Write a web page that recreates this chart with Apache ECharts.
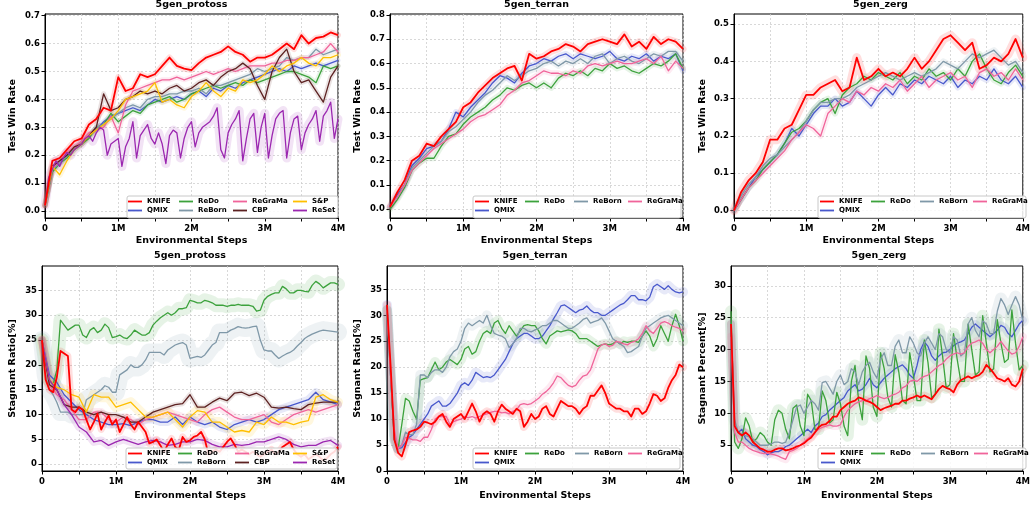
<!DOCTYPE html>
<html lang="en">
<head>
<meta charset="UTF-8">
<title>5gen win rate / stagnant ratio</title>
<script src="https://cdn.jsdelivr.net/npm/echarts@6.0.0/dist/echarts.min.js"></script>
<style>
  html, body { margin: 0; padding: 0; background: #fff; }
  #main { width: 1033px; height: 507px; }
</style>
</head>
<body>
<div id="main"></div>
<script>
// series names
var namesFull = ['KNIFE', 'QMIX', 'ReDo', 'ReBorn', 'ReGraMa', 'CBP', 'S&P', 'ReSet'];
var namesFive = ['KNIFE', 'QMIX', 'ReDo', 'ReBorn', 'ReGraMa'];

// tick labels
var ticksWin07 = [0, 0.1, 0.2, 0.3, 0.4, 0.5, 0.6, 0.7];
var ticksWin08 = [0, 0.1, 0.2, 0.3, 0.4, 0.5, 0.6, 0.7, 0.8];
var ticksWin05 = [0, 0.1, 0.2, 0.3, 0.4, 0.5];
var ticksStag35 = [0, 5, 10, 15, 20, 25, 30, 35];
var ticksStag30 = [5, 10, 15, 20, 25, 30];

// every array spans 0..4M environmental steps, evenly spaced

// --- 5gen_protoss, test win rate (0.1M steps; ReSet 0.05M) ---
var pwKNIFE = [0.02,0.18,0.19,0.22,0.25,0.26,0.31,0.33,0.37,0.36,0.48,0.43,0.44,0.49,0.48,0.49,0.52,0.55,0.52,0.51,0.505,0.53,0.55,0.56,0.57,0.59,0.57,0.56,0.535,0.55,0.55,0.56,0.58,0.60,0.58,0.63,0.60,0.62,0.625,0.64,0.63];
var pwQMIX = [0.02,0.15,0.17,0.20,0.22,0.24,0.27,0.29,0.32,0.34,0.35,0.36,0.37,0.36,0.38,0.40,0.39,0.40,0.41,0.40,0.42,0.43,0.41,0.44,0.43,0.45,0.44,0.46,0.47,0.48,0.49,0.50,0.51,0.50,0.52,0.51,0.52,0.53,0.52,0.53,0.54];
var pwReDo = [0.02,0.14,0.17,0.19,0.22,0.24,0.26,0.30,0.31,0.35,0.32,0.34,0.36,0.35,0.38,0.39,0.40,0.41,0.39,0.40,0.42,0.43,0.44,0.45,0.44,0.45,0.46,0.45,0.47,0.46,0.47,0.48,0.49,0.50,0.50,0.49,0.48,0.46,0.52,0.51,0.52];
var pwReBorn = [0.02,0.15,0.17,0.20,0.22,0.25,0.27,0.30,0.31,0.33,0.35,0.37,0.38,0.37,0.40,0.41,0.41,0.42,0.42,0.43,0.43,0.44,0.42,0.45,0.45,0.46,0.47,0.48,0.49,0.51,0.50,0.51,0.52,0.55,0.54,0.55,0.55,0.58,0.56,0.57,0.58];
var pwReGraMa = [0.02,0.15,0.18,0.21,0.23,0.25,0.28,0.29,0.30,0.34,0.28,0.38,0.43,0.44,0.45,0.46,0.47,0.47,0.48,0.47,0.48,0.49,0.50,0.49,0.50,0.51,0.50,0.51,0.52,0.52,0.52,0.53,0.53,0.54,0.54,0.55,0.55,0.56,0.57,0.60,0.57];
var pwCBP = [0.02,0.16,0.18,0.20,0.23,0.24,0.27,0.30,0.42,0.36,0.37,0.40,0.41,0.43,0.42,0.43,0.42,0.44,0.45,0.43,0.44,0.46,0.47,0.45,0.48,0.50,0.51,0.53,0.51,0.45,0.40,0.50,0.55,0.58,0.50,0.46,0.47,0.43,0.39,0.48,0.52];
var pwSP = [0.02,0.16,0.13,0.18,0.22,0.24,0.27,0.29,0.31,0.33,0.36,0.40,0.41,0.42,0.43,0.46,0.39,0.40,0.38,0.37,0.41,0.43,0.46,0.43,0.41,0.44,0.43,0.47,0.46,0.47,0.49,0.52,0.50,0.52,0.53,0.55,0.53,0.52,0.55,0.55,0.56];
var pwReSet = [0.02,0.12,0.15,0.18,0.16,0.19,0.21,0.20,0.22,0.23,
  0.24,0.26,0.27,0.25,0.28,0.30,0.29,0.20,0.24,0.25,
  0.26,0.16,0.23,0.26,0.32,0.19,0.27,0.29,0.31,0.26,
  0.24,0.28,0.24,0.17,0.27,0.29,0.28,0.19,0.26,0.30,
  0.32,0.23,0.28,0.30,0.31,0.32,0.34,0.37,0.22,0.19,
  0.28,0.31,0.33,0.36,0.18,0.26,0.33,0.35,0.21,0.30,
  0.35,0.19,0.27,0.33,0.35,0.36,0.19,0.28,0.33,0.34,
  0.22,0.28,0.31,0.33,0.36,0.25,0.34,0.36,0.39,0.26,
  0.33];

// --- 5gen_terran, test win rate (0.1M steps) ---
var twKNIFE = [0.01,0.07,0.12,0.20,0.22,0.27,0.26,0.30,0.33,0.36,0.42,0.44,0.48,0.51,0.54,0.56,0.58,0.59,0.53,0.64,0.62,0.63,0.65,0.66,0.68,0.67,0.65,0.68,0.69,0.70,0.69,0.68,0.72,0.67,0.69,0.66,0.71,0.68,0.70,0.69,0.66];
var twQMIX = [0.01,0.06,0.10,0.18,0.21,0.25,0.26,0.28,0.33,0.40,0.38,0.42,0.45,0.48,0.52,0.55,0.54,0.52,0.56,0.59,0.60,0.62,0.61,0.63,0.64,0.62,0.64,0.63,0.62,0.63,0.65,0.62,0.61,0.63,0.62,0.64,0.61,0.63,0.62,0.64,0.57];
var twReDo = [0.00,0.04,0.09,0.16,0.19,0.21,0.21,0.26,0.30,0.31,0.35,0.38,0.40,0.42,0.45,0.47,0.50,0.49,0.51,0.52,0.50,0.52,0.50,0.54,0.56,0.55,0.57,0.55,0.58,0.57,0.60,0.58,0.59,0.57,0.56,0.58,0.60,0.59,0.61,0.64,0.58];
var twReBorn = [0.01,0.05,0.10,0.17,0.20,0.23,0.26,0.28,0.32,0.34,0.37,0.40,0.44,0.47,0.49,0.52,0.55,0.53,0.55,0.57,0.58,0.60,0.61,0.59,0.61,0.60,0.62,0.60,0.63,0.64,0.60,0.62,0.63,0.61,0.60,0.62,0.64,0.63,0.65,0.65,0.61];
var twReGraMa = [0.01,0.05,0.10,0.16,0.19,0.22,0.25,0.27,0.29,0.31,0.33,0.36,0.38,0.39,0.41,0.43,0.47,0.49,0.52,0.53,0.55,0.57,0.56,0.56,0.55,0.57,0.56,0.59,0.60,0.59,0.60,0.61,0.60,0.60,0.61,0.62,0.60,0.63,0.57,0.61,0.58];

// --- 5gen_zerg, test win rate (0.1M steps) ---
var zwKNIFE = [0.00,0.05,0.08,0.10,0.13,0.19,0.19,0.22,0.23,0.27,0.31,0.31,0.33,0.34,0.35,0.32,0.33,0.41,0.35,0.36,0.38,0.36,0.37,0.36,0.38,0.41,0.38,0.40,0.43,0.46,0.47,0.45,0.43,0.45,0.38,0.39,0.41,0.40,0.42,0.46,0.41];
var zwQMIX = [0.00,0.03,0.06,0.09,0.11,0.13,0.15,0.18,0.22,0.20,0.23,0.26,0.28,0.28,0.30,0.28,0.29,0.32,0.30,0.28,0.31,0.33,0.31,0.34,0.33,0.35,0.34,0.36,0.35,0.34,0.36,0.33,0.35,0.34,0.36,0.35,0.38,0.35,0.34,0.36,0.33];
var zwReDo = [0.00,0.03,0.06,0.08,0.11,0.13,0.15,0.18,0.21,0.22,0.24,0.27,0.29,0.30,0.26,0.31,0.33,0.34,0.36,0.35,0.37,0.36,0.35,0.37,0.34,0.36,0.35,0.38,0.36,0.37,0.35,0.38,0.36,0.40,0.42,0.38,0.35,0.34,0.37,0.39,0.36];
var zwReBorn = [0.00,0.04,0.07,0.09,0.12,0.14,0.15,0.17,0.19,0.21,0.24,0.27,0.29,0.29,0.30,0.30,0.31,0.33,0.34,0.35,0.36,0.37,0.36,0.35,0.36,0.37,0.36,0.37,0.38,0.40,0.39,0.38,0.40,0.42,0.41,0.42,0.43,0.41,0.39,0.40,0.37];
var zwReGraMa = [0.00,0.03,0.06,0.08,0.10,0.12,0.14,0.16,0.19,0.21,0.23,0.22,0.20,0.26,0.28,0.30,0.29,0.32,0.31,0.33,0.32,0.34,0.33,0.35,0.32,0.34,0.36,0.33,0.35,0.36,0.37,0.35,0.36,0.33,0.37,0.38,0.36,0.37,0.35,0.38,0.35];

// --- 5gen_protoss, stagnant ratio [%] (KNIFE/ReDo/ReBorn 0.05M, others 0.1M) ---
var psKNIFE = [25,17,15,14.5,17.5,22.8,22.3,21.8,11,10.5,
  11.5,11,9,7,8.5,10.2,7,8.5,9.8,8,
  9,6.5,8,9.5,8,7,8.5,7.5,6.5,4.2,
  4.5,5,3.8,2.5,4,5.2,3.5,3,5.5,4.5,
  4.8,5.5,5.8,6.5,5,2,2.5,3,2.5,3.5,
  4.5,5.2,4,2.5,3,2.5,2,2.5,2,1.5,
  2,2.5,3,2,2.5,3.5,4,4.5,3,2,
  1.5,2,1,1.5,2,1.5,0.8,1.2,2,2.5,
  3.5];
var psQMIX = [25,18,16.5,14,12.5,11,10,9,8.5,8,8,8.2,7.8,8.5,9,9,8.5,8.5,9.5,8,9.5,8.5,8,8.5,7.5,7,8,8.5,9,8.5,9,10,11,11.5,12,12.5,13,14.5,13,12.5,12];
var psReDo = [25,20,17,16,19,29,28,27,27.5,28,
  28,26,25.5,27,27.5,26.5,27,28.2,27.5,25.5,
  25.7,26,25.5,25.3,26,27,26.5,26,26,26.5,
  28,28.8,29.5,30,30.5,30,30.5,31.3,31.3,31.5,
  33,32.8,32.5,32.5,33,32.8,32.5,32,32,32,
  31.8,32,32,32.2,32,32,32,31.8,30.8,31,
  33,33.8,34.2,34.5,34.5,35.8,35.3,34.5,34.5,35,
  35,34.8,34.7,36,36.8,36.3,35.5,36,36.5,36.5,
  36.2];
var psReBorn = [25,18,15,14,12.5,10.5,10.5,10.5,10,10,
  10,10,13,13.5,14,14.5,15,15.8,15.5,14.5,
  14.5,18,18.5,19,20,19.5,19.5,20,21,22.5,
  22.5,22.5,22.5,22,23,23.5,24,24.3,24.5,24,
  21.3,21.5,21.7,21.5,22,23,24,24.5,26.5,26.5,
  26.5,27,27.3,27.7,27.5,27.4,27.5,27.7,27.8,25,
  23,22.8,22.8,22,21.3,21.8,22.2,22.5,23,23.8,
  24.5,25.3,25.8,26.2,26.5,26.8,27,26.9,26.8,26.7,
  26.6];
var psReGraMa = [25,16,14,13,11,9,9,10.5,10.5,9,8.5,9.5,9,8,9,9.5,10,10.5,10,9.5,9,8.5,10,11,11.5,10.5,9.5,9,9,9.5,10,8.5,8,9,10,10.5,11,10.5,11,11.5,12];
var psCBP = [25,16,15,12,11.5,11.5,10.5,10,10.5,10,10,9.5,8.5,8.5,9.5,10.5,11,11.5,12,12.2,14,11.5,11.5,12.5,13.3,12.8,14.3,14.5,13.8,14.3,13.5,11.5,11.3,11.5,11.2,11,12,12.3,12.5,12.5,12.5];
var psSP = [25,17,15.5,15,14,13.5,10.5,14,13.5,13.5,11.5,12,12.5,11,9.5,9.5,10,10.5,9,7.5,9.5,10.8,10.5,8.5,8.5,7.5,6.5,6.8,6.5,8.5,8,9.5,8.5,8.5,8,8.5,8.8,13.5,14,13,12.5];
var psReSet = [25,17,15,12,10,7.5,6.5,4.5,4.8,3.8,4.5,5,4.5,4,4.5,4.8,4.5,3.8,4,4.5,4.5,5,4.8,4,3.5,3.5,4,3.8,4,4.5,4.5,5,5.5,5,4,3.5,3.8,3.8,4.5,4.8,3.8];

// --- 5gen_terran, stagnant ratio [%] (0.05M steps) ---
var tsKNIFE = [32,20,6,3.5,2.8,5,7.5,7.8,8,8.5,
  9.5,9.3,9,9.5,10.5,11,9.5,8.5,10,10.5,
  11,10,11.5,13,11.5,9.5,11,11.5,11,9.5,
  11.5,12.8,12,11.5,11,12,11.5,8.5,9.5,11,
  10,10.5,12,12.5,11,10.5,12,13.5,13,12.5,
  12.5,12,11,12,12.5,14.5,14.5,15.5,16.5,15,
  13,12.5,12,12,11.5,11.5,10.5,12,12,11,
  11.5,13,14.8,14.5,13.5,14,16,17.5,18.5,20.5,
  20];
var tsQMIX = [32,18,6,4.3,4.5,5.5,6.5,7,8,9,
  10,11,12.5,13,13.5,12.5,12.5,13,14,15,
  16.5,17,16.5,17.5,19,18.5,18,18.2,18,18.5,
  19.5,20.5,21.5,23,24.5,25.5,26,26.5,26.5,26,
  25.5,25.5,26,27,28,29.3,30.5,31.8,32,31.5,
  31,30.5,31,31.2,31.8,31,30.5,30.5,30,30,
  30.5,31,31.5,32,32.3,33,33.8,33.8,33,33,
  32.8,33.5,35.5,36,35.5,35,35.7,35,34.5,34.3,
  34.5];
var tsReDo = [31,18,6,4.3,9,14,13.5,11.5,10,17.5,
  17.8,18,19.5,21,19.5,20,21,21.5,21,20.5,
  21.5,23.5,24,22.5,23,25,26.5,27,26.5,28.5,
  29,27.5,26.5,28,27,26,27,28,28.2,28,
  28,27,25.5,24.5,26,26.5,27,26.8,27,27.2,
  27,26.5,25.5,25.5,25.5,25,24.5,24,24.3,24.5,
  24.3,24.5,25,24.5,25,24.8,25,25,24.8,26,
  27,26,24,25.5,28,26.5,25,28,30.2,28,
  25];
var tsReBorn = [31,18,7,4.3,5,7.5,7,7,9,18.5,
  18.5,18,19,19.5,19.5,19,20,22,23,23.5,
  25,27.5,28.5,28,28.5,29,28.5,30,28,26.5,
  26.2,26,25.5,23.8,24.5,25.5,27.5,27.5,27,26.8,
  27.2,27.5,28,28,28.5,29,29,28.5,28,27.5,
  27.5,28,28.5,29.2,29.5,28.5,28.8,29,29.5,28.5,
  27,25.5,25,24.5,24,22.8,23,23.5,24,26,
  27.5,28,28.5,29,29.5,29.8,30,29.5,29,28.5,
  28];
var tsReGraMa = [31,18,8,4.3,5,6.5,6.3,6,6,5.7,
  6.5,6.5,8,10,10.5,10.5,10.5,9,9.5,9.8,
  10,10.5,10.3,10.5,10.2,10.5,10.8,11,11.3,11.5,
  11.5,11.2,11.3,11,11.5,11.8,12.8,13,12.8,13,
  13.5,14,14.8,15.3,16,17,18.3,18,17.2,16.5,
  16.2,16.5,17.5,18.3,18.5,19.5,21.5,23.5,24.3,24.5,
  24,24.2,25,24.8,24.5,24.3,24.8,25,25.5,26.5,
  28,27,26.5,27.5,28.5,28.8,28.5,28,27.7,27.5,
  27];

// --- 5gen_zerg, stagnant percent [%] (0.05M steps) ---
var zsKNIFE = [24,8,7,6.5,7,6.5,5.5,5,4.5,4.3,
  4,4,4.3,4.5,4.5,4.2,4.3,4.5,4.8,5,
  5.3,5.8,6.2,7,7.8,8.2,8.3,8.8,9.5,9.5,
  10.5,11,11.5,11.8,12,12.5,12.3,12,11.8,11.5,
  11,10.5,10.8,11,11.2,11.5,11.5,12,12,12.3,
  12.5,12.8,12.5,12.8,12.5,12.2,13,13.8,14.3,14,
  13.8,13.3,14.5,15.2,15.5,15.8,15.5,15.8,16,16.5,
  17.6,17,16.3,15.5,15.3,15,15.5,14.5,14.2,15,
  17];
var zsQMIX = [24,8,7,7.5,6,5.5,5,4.8,4.3,4,
  3.5,3.8,4,4,4.3,4.8,5,5.5,6,6.5,
  7,7.5,7,8,8.5,9.5,9.8,10.5,11,11.5,
  12,12.5,13.5,14,14.5,13.5,13.8,14.5,15.5,14.5,
  14,14.8,15.5,16,16.5,17,17.3,17.6,17,16,
  15.5,17.5,20,21.2,20.5,19,18.3,19,19.5,19.6,
  20,20.6,21,21.2,21.5,22.5,23.5,24,23.5,23,
  22.5,22,22.5,23,23.8,23.5,22.5,22,23,24,
  24.6];
var zsReDo = [26,5.5,4.5,6,9.3,8,5.5,6,7,6.5,
  5.5,5,9,10.5,10,7.5,6,10.8,11.3,8,
  6.5,13,12,7.5,7.5,13.5,12,8.5,9,13.3,
  11.5,8,6.5,15,17.5,12,9,19,17,11,
  9.5,19.5,17,12.5,11,19.2,16.5,12,11.5,19.5,
  16,12,12,21.5,18,12.5,13,23.2,19,14,
  14.5,22.5,18.5,15,15,24,20,16,16.5,25.3,
  21,16.5,17,24.7,21,18,18.5,26.2,21,16.8,
  17.5];
var zsReBorn = [24,9,7,6.8,6.5,6.3,6,5.5,5,5,
  5,5.2,5.5,5.5,5.3,5.5,7,9,11,11.3,
  10,11,12,11.5,10.5,14.8,15,14,13,15,
  16,14.5,15,17,16.5,14.5,16.5,17.5,18,16.5,
  15.5,18.5,19.5,17.5,17.5,20.5,21.5,19.5,19.5,22,
  21,19.5,19,21,22,21,20,22.5,22,20,
  19.5,22,21.5,19,19.5,24,25,23,22,24.5,
  24,22.5,22.5,26,28,27,25.5,27,28.3,27,
  24.5];
var zsReGraMa = [22,7,5.5,5.5,5,4.5,4.2,4,3.8,3.7,
  3.8,3.6,3.5,3.3,3,2.8,4,4.2,4.5,5,
  5.5,6,6.5,7,7.5,7.8,8,8.2,8,8,
  8.2,9.5,10.5,11,11.5,11.8,12,12,12.3,12.5,
  12.8,12.5,12.3,12.5,12.8,13,13.3,14,14.3,15,
  15.2,15,15.5,15.8,16,16.5,17,17.5,17.8,18.5,
  19,19.3,19.5,19.3,19.5,20.5,21,21.2,21.5,21,
  20,19.5,20,20.5,21.3,20.5,19.8,19.3,19.5,20.5,
  22];

// ---------------- styling / layout ----------------
var colors = {
  'KNIFE': '#ff0000', 'QMIX': '#4858cc', 'ReDo': '#3ca23c', 'ReBorn': '#7f98a8',
  'ReGraMa': '#f0649a', 'CBP': '#5c2121', 'S&P': '#ffbf00', 'ReSet': '#9b27b0'
};
var FONT = 'DejaVu Sans';

var panels = [
  { title: '5gen_protoss', yName: 'Test Win Rate', box: { left: 45, top: 14, width: 293, height: 204 },
    yMin: -0.025, yMax: 0.706, ticks: ticksWin07, dec: 1, yGap: 27, xGap: 18, titleTop: 0,
    names: namesFull, data: [pwKNIFE, pwQMIX, pwReDo, pwReBorn, pwReGraMa, pwCBP, pwSP, pwReSet],
    halo: [6, 5, 5, 5, 5, 5, 6, 9],
    cols: [['KNIFE', 'QMIX'], ['ReDo', 'ReBorn'], ['ReGraMa', 'CBP'], ['S&P', 'ReSet']],
    colX: [128, 179, 233, 293], legTop: 197, frame: [127, 196, 211, 22] },
  { title: '5gen_terran', yName: 'Test Win Rate', box: { left: 390, top: 14, width: 293, height: 204 },
    yMin: -0.036, yMax: 0.804, ticks: ticksWin08, dec: 1, yGap: 27, xGap: 18, titleTop: 0,
    names: namesFive, data: [twKNIFE, twQMIX, twReDo, twReBorn, twReGraMa],
    halo: [7, 6, 6, 6, 6],
    cols: [['KNIFE', 'QMIX'], ['ReDo'], ['ReBorn'], ['ReGraMa']],
    colX: [475, 525, 574, 628], legTop: 197, frame: [473, 196, 208, 22] },
  { title: '5gen_zerg', yName: 'Test Win Rate', box: { left: 734, top: 14, width: 293, height: 204 },
    yMin: -0.02, yMax: 0.527, ticks: ticksWin05, dec: 1, yGap: 26, xGap: 18, titleTop: 0,
    names: namesFive, data: [zwKNIFE, zwQMIX, zwReDo, zwReBorn, zwReGraMa],
    halo: [9, 6, 6, 6, 6],
    cols: [['KNIFE', 'QMIX'], ['ReDo'], ['ReBorn'], ['ReGraMa']],
    colX: [820, 871, 920, 973], legTop: 197, frame: [818, 196, 208, 22] },
  { title: '5gen_protoss', yName: 'Stagnant Ratio[%]', box: { left: 42, top: 266, width: 296, height: 205 },
    yMin: -1.35, yMax: 39.9, ticks: ticksStag35, dec: 0, yGap: 24, xGap: 19.5, titleTop: 251,
    names: namesFull, data: [psKNIFE, psQMIX, psReDo, psReBorn, psReGraMa, psCBP, psSP, psReSet],
    halo: [7, 8, 14, 18, 8, 5, 10, 8],
    cols: [['KNIFE', 'QMIX'], ['ReDo', 'ReBorn'], ['ReGraMa', 'CBP'], ['S&P', 'ReSet']],
    colX: [128, 178, 235, 293], legTop: 449, frame: [126, 448, 211, 21] },
  { title: '5gen_terran', yName: 'Stagnant Ratio[%]', box: { left: 387, top: 266, width: 296, height: 205 },
    yMin: 0, yMax: 39.5, ticks: ticksStag35, dec: 0, yGap: 24, xGap: 19.5, titleTop: 251,
    names: namesFive, data: [tsKNIFE, tsQMIX, tsReDo, tsReBorn, tsReGraMa],
    halo: [8, 10, 10, 10, 8],
    cols: [['KNIFE', 'QMIX'], ['ReDo'], ['ReBorn'], ['ReGraMa']],
    colX: [475, 525, 575, 628], legTop: 449, frame: [473, 448, 207, 21] },
  { title: '5gen_zerg', yName: 'Stagnant Percent[%]', box: { left: 731, top: 266, width: 296, height: 205 },
    yMin: 0.96, yMax: 33.1, ticks: ticksStag30, dec: 0, yGap: 23, xGap: 19.5, titleTop: 251,
    names: namesFive, data: [zsKNIFE, zsQMIX, zsReDo, zsReBorn, zsReGraMa],
    halo: [8, 8, 12, 12, 8],
    cols: [['KNIFE', 'QMIX'], ['ReDo'], ['ReBorn'], ['ReGraMa']],
    colX: [821, 871, 921, 974], legTop: 449, frame: [818, 448, 208, 21] }
];

// array index -> environmental steps (in millions)
function pairs(arr) {
  var last = arr.length - 1;
  return arr.map(function (v, i) { return [i * 4 / last, v]; });
}

var gridLine = { show: true, lineStyle: { color: '#cfcfcf', type: [2, 2], width: 0.8 } };
var labelFont = { fontFamily: FONT, fontWeight: 'bold', fontSize: 8.5, color: '#000' };
var nameFont = { fontFamily: FONT, fontWeight: 'bold', fontSize: 9.5, color: '#000' };

var option = {
  animation: false,
  backgroundColor: '#fff',
  textStyle: { fontFamily: FONT },
  title: [], grid: [], xAxis: [], yAxis: [], legend: [], series: [], graphic: []
};

panels.forEach(function (p, i) {
  option.grid.push({
    left: p.box.left, top: p.box.top, width: p.box.width, height: p.box.height,
    show: true, borderColor: '#000', borderWidth: 1, backgroundColor: 'transparent'
  });
  option.title.push({
    text: p.title, left: p.box.left + p.box.width / 2, top: p.titleTop, textAlign: 'center', padding: 0,
    textStyle: nameFont
  });
  option.xAxis.push({
    gridIndex: i, type: 'value', min: 0, max: 4, interval: 0.5,
    name: 'Environmental Steps', nameLocation: 'middle', nameGap: p.xGap, nameTextStyle: nameFont,
    axisLine: { show: true, onZero: false, lineStyle: { color: '#000', width: 1 } },
    axisTick: { show: true, length: 3.5, lineStyle: { color: '#000' } },
    axisLabel: Object.assign({ margin: 6, formatter: function (v) {
      if (v % 1 !== 0) return '';
      return v === 0 ? '0' : v + 'M';
    } }, labelFont),
    splitLine: gridLine
  });
  option.yAxis.push({
    gridIndex: i, type: 'value', min: p.yMin, max: p.yMax,
    name: p.yName, nameLocation: 'middle', nameGap: p.yGap, nameTextStyle: nameFont,
    axisLine: { show: true, onZero: false, lineStyle: { color: '#000', width: 1 } },
    axisTick: { show: true, length: 3.5, customValues: p.ticks, lineStyle: { color: '#000' } },
    axisLabel: Object.assign({ margin: 5, customValues: p.ticks, formatter: (function (dec) {
      return function (v) { return Number(v).toFixed(dec); };
    })(p.dec) }, labelFont),
    splitLine: gridLine
  });

  p.names.forEach(function (n, k) {
    var d = pairs(p.data[k]);
    // light spread band drawn as a wide translucent stroke
    option.series.push({
      type: 'line', name: n + ' band', xAxisIndex: i, yAxisIndex: i, data: d,
      symbol: 'none', silent: true, z: 1,
      lineStyle: { color: colors[n], width: p.halo[k], opacity: 0.13, join: 'round', cap: 'round' }
    });
    option.series.push({
      type: 'line', name: n, xAxisIndex: i, yAxisIndex: i, data: d,
      symbol: 'none', z: n === 'KNIFE' ? 3 : 2,
      itemStyle: { color: colors[n] },
      lineStyle: { color: colors[n], width: n === 'KNIFE' ? 1.8 : 1.3, join: 'round' }
    });
  });

  option.graphic.push({
    type: 'rect', z: 5,
    shape: { x: p.frame[0], y: p.frame[1], width: p.frame[2], height: p.frame[3], r: 2 },
    style: { fill: 'rgba(255,255,255,0.85)', stroke: '#c8c8c8', lineWidth: 1 }
  });
  p.cols.forEach(function (col, k) {
    option.legend.push({
      data: col, orient: 'vertical', left: p.colX[k], top: p.legTop, padding: 0,
      icon: 'rect', itemGap: 0, itemWidth: 14, itemHeight: 1.8, selectedMode: false, z: 6,
      textStyle: { fontFamily: FONT, fontWeight: 'bold', fontSize: 7, color: '#000', lineHeight: 9 }
    });
  });
});

var chart = echarts.init(document.getElementById('main'), null, { renderer: 'canvas' });
chart.setOption(option);
</script>
</body>
</html>
